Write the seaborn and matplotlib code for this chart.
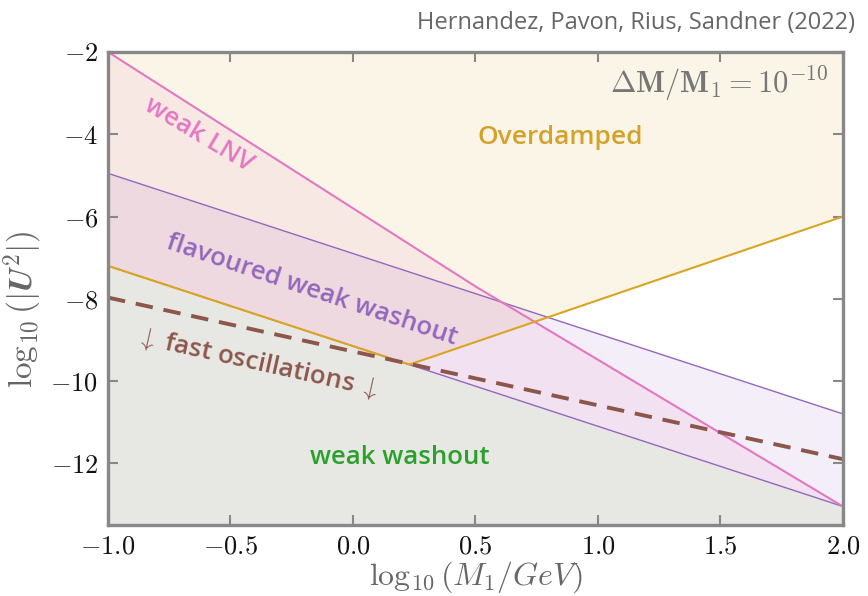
import numpy as np
import pandas as pd
import matplotlib
matplotlib.use("Agg")
import matplotlib.pyplot as plt
import seaborn as sns

# Boundary curves in the (log10 M1, log10 |U^2|) plane
lnv_x = [-1.0, 0.5, 2.0]
lnv_y = [-2.0, -7.7, -13.05]

fww_x = [-1.0, 2.0]
fww_upper = [-4.95, -10.8]
fww_lower = [-7.2, -13.05]

over_x = [-1.0, 0.23, 2.0]
over_y = [-7.2, -9.6, -6.0]

osc_x = [-1.0, 2.0]
osc_y = [-7.97, -11.9]

xticks = [-1.0, -0.5, 0.0, 0.5, 1.0, 1.5, 2.0]
yticks = [-2, -4, -6, -8, -10, -12]

PINK = "#e377c2"
PURPLE = "#9467bd"
GOLD = "#daa520"
BROWN = "#8c564b"
GREEN = "#2ca02c"
FRAME = "#888888"

sns.set_theme(style="white")
plt.rcParams["mathtext.fontset"] = "cm"
plt.rcParams["font.family"] = ["Open Sans", "DejaVu Sans"]

fig = plt.figure(figsize=(8.68, 5.96), dpi=100)
ax = fig.add_axes([0.1244, 0.1191, 0.8468, 0.7937])
ax.set_axisbelow(False)
ymin, ymax = -13.5, -2.0

# Filled regions
ax.fill_between(over_x, over_y, ymax, color="#fbf5e8", lw=0, zorder=1)
ax.fill_between(fww_x, fww_lower, ymin, color="#e7e7e3", lw=0, zorder=1)
ax.fill_between(fww_x, fww_lower, fww_upper, color=PURPLE, alpha=0.11, lw=0, zorder=2)
ax.fill(np.r_[lnv_x, fww_x[::-1]], np.r_[lnv_y, fww_lower[::-1]],
        color=PINK, alpha=0.10, lw=0, zorder=2)

# Boundary lines
df_up = pd.DataFrame({"x": fww_x, "y": fww_upper})
df_lo = pd.DataFrame({"x": fww_x, "y": fww_lower})
df_lnv = pd.DataFrame({"x": lnv_x, "y": lnv_y})
df_over = pd.DataFrame({"x": over_x, "y": over_y})
df_osc = pd.DataFrame({"x": osc_x, "y": osc_y})

sns.lineplot(data=df_up, x="x", y="y", ax=ax, color=PURPLE, lw=1.0, sort=False, zorder=3)
sns.lineplot(data=df_lo, x="x", y="y", ax=ax, color=PURPLE, lw=1.0, sort=False, zorder=3)
sns.lineplot(data=df_lnv, x="x", y="y", ax=ax, color=PINK, lw=1.5, sort=False, zorder=4)
sns.lineplot(data=df_over, x="x", y="y", ax=ax, color=GOLD, lw=1.5, sort=False, zorder=4)
osc_line = sns.lineplot(data=df_osc, x="x", y="y", ax=ax, color=BROWN, lw=2.8,
                        sort=False, zorder=5).lines[-1]
osc_line.set_dashes((4.5, 2.8))

ax.set_xlim(-1.0, 2.0)
ax.set_ylim(ymin, ymax)
ax.set_xticks(xticks)
ax.set_yticks(yticks)
ax.set_xticklabels([f"${t:.1f}$" for t in xticks])
ax.set_yticklabels([f"${t}$" for t in yticks])
ax.tick_params(direction="in", length=7, width=1.5, color=FRAME,
               bottom=True, left=True, top=True, right=True,
               labelsize=19, labelcolor="#111111", pad=7)
for s in ax.spines.values():
    s.set_color(FRAME)
    s.set_linewidth(2.4)
    s.set_zorder(10)

ax.set_xlabel(r"$\log_{10}(M_1/GeV)$", fontsize=23, color="#666666", labelpad=0)
ax.set_ylabel(r"$\log_{10}(|\boldsymbol{U}^2|)$", fontsize=24, color="#666666")
ax.yaxis.set_label_coords(-0.086, 0.455)

# Region labels
lab = dict(fontweight="semibold", ha="center", va="center", zorder=6)
ax.text(-0.63, -4.02, "weak LNV", color=PINK, fontsize=18.5, rotation=-31, **lab)
ax.text(-0.17, -7.8, "flavoured weak washout", color=PURPLE, fontsize=18.5,
        rotation=-18.5, **lab)
ax.text(0.845, -4.07, "Overdamped", color="#d4a22a", fontsize=19, **lab)
ax.text(-0.39, -9.56, r"$\downarrow$ fast oscillations $\downarrow$", color=BROWN,
        fontsize=18.5, rotation=-12.5, **lab)
ax.text(0.19, -11.85, "weak washout", color=GREEN, fontsize=18.5, **lab)
ax.text(1.94, -2.77, r"$\mathbf{\Delta M/M_1 = 10^{-10}}$", color="#777777",
        fontsize=22, ha="right", va="center", zorder=6)

fig.text(0.985, 0.962, "Hernandez, Pavon, Rius, Sandner (2022)", color="#666666",
         fontsize=17, ha="right", va="center")

fig.savefig("out.png", dpi=100)
